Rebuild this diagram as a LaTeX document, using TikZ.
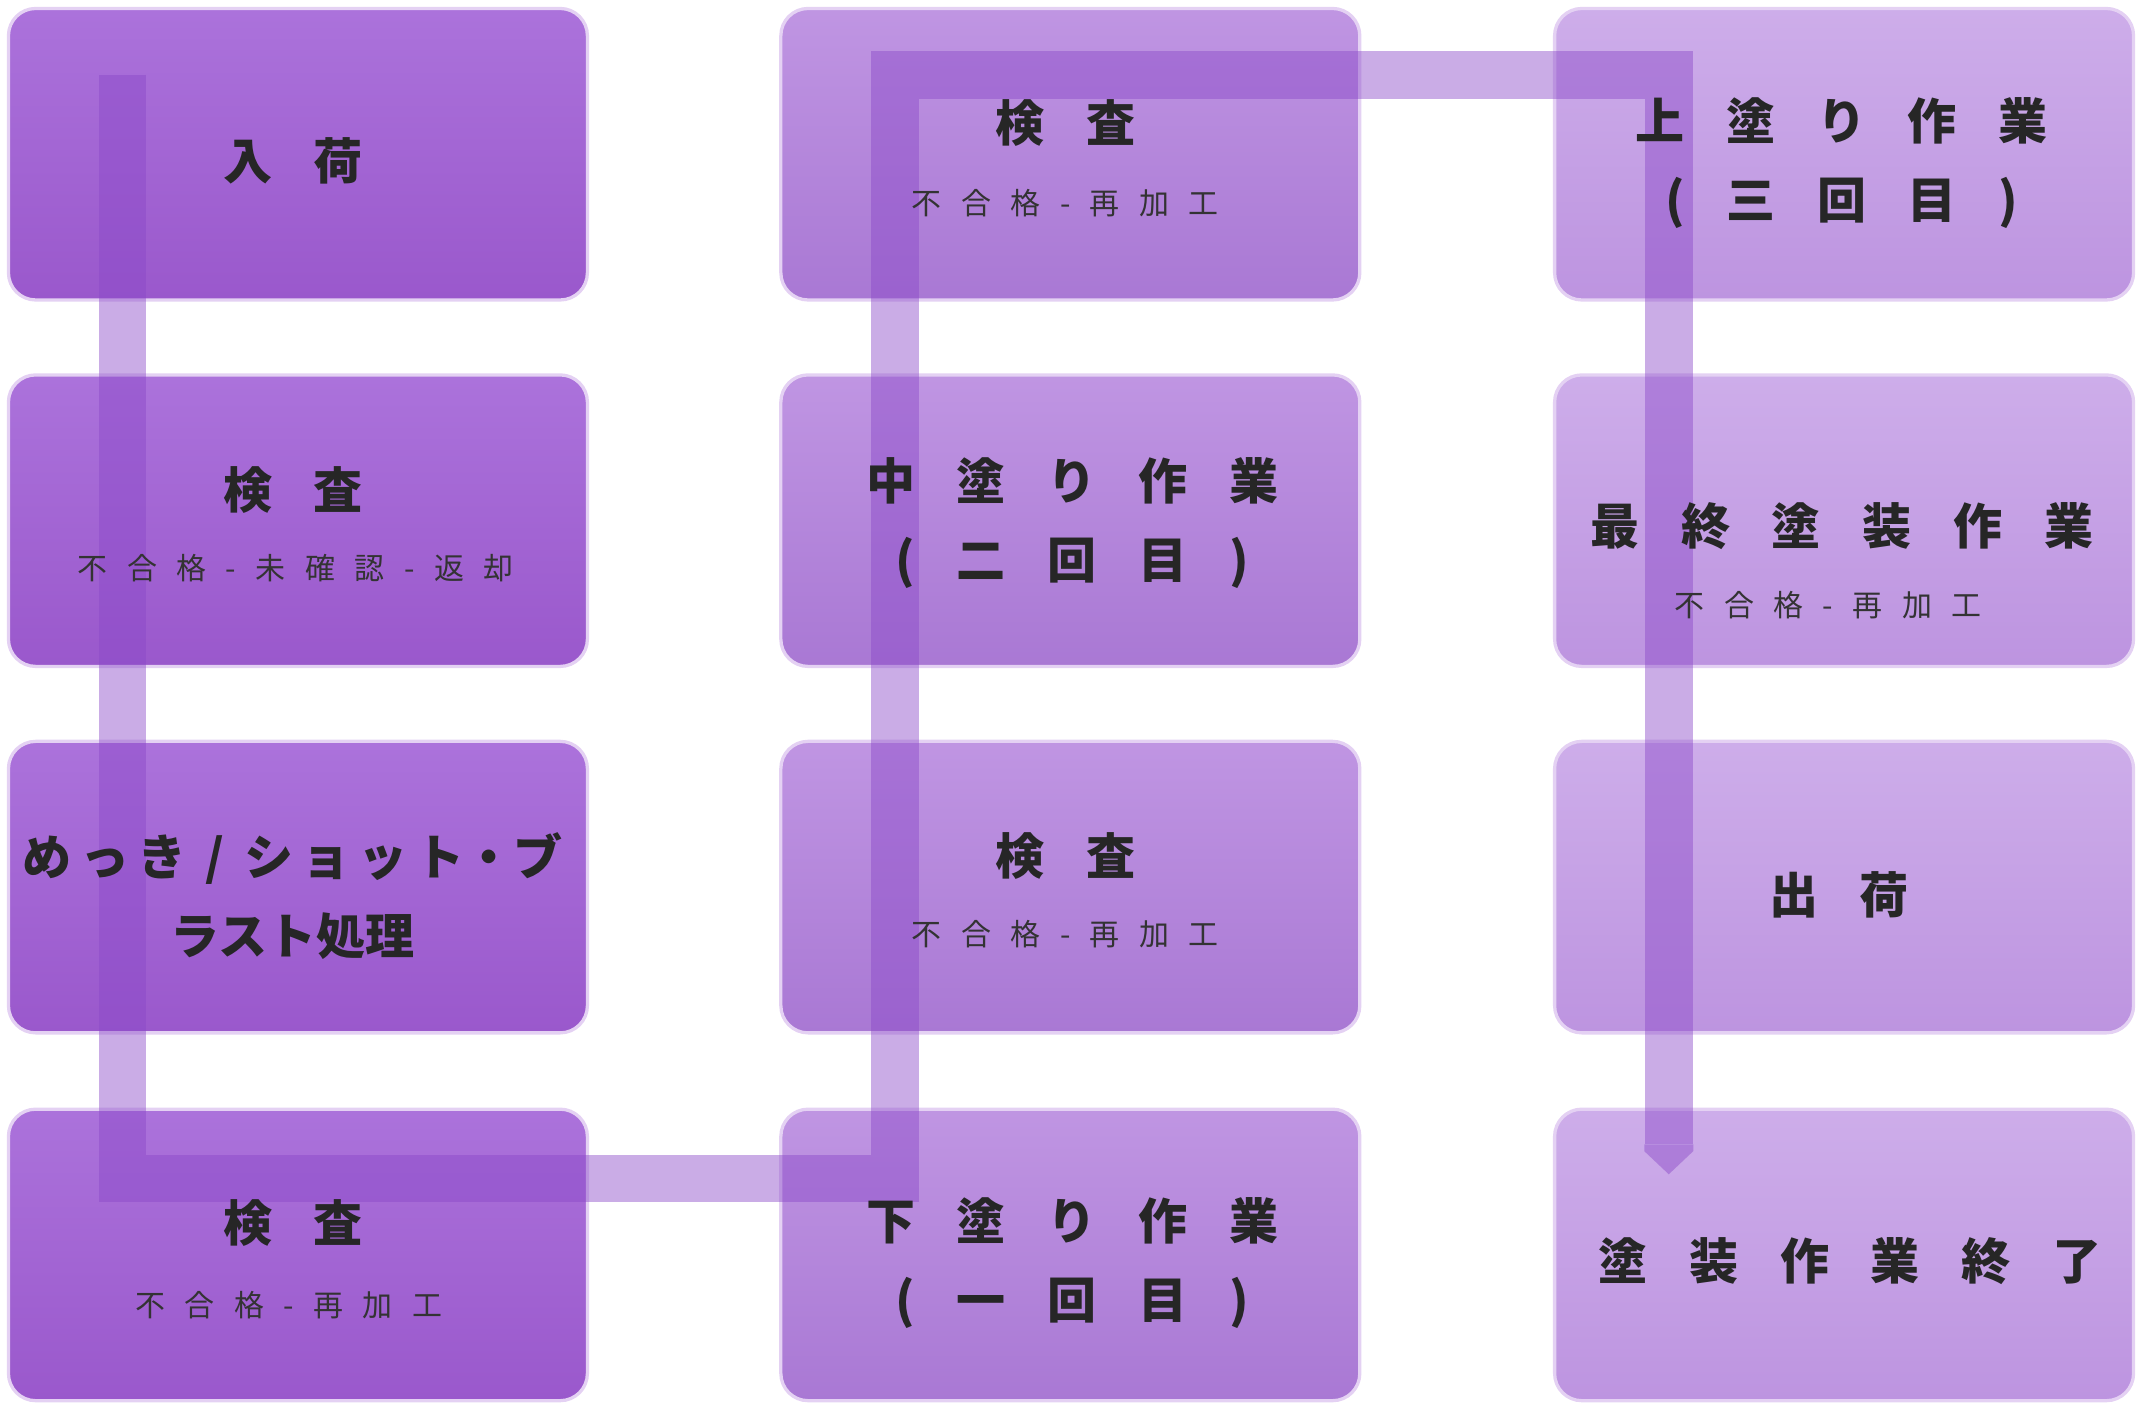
\documentclass[tikz,border=0pt]{standalone}
\usepackage{fontspec}
\setmainfont{Noto Sans CJK JP}
\usetikzlibrary{calc}
\definecolor{cA}{HTML}{A466D8}
\definecolor{cB}{HTML}{BA8CE0}
\definecolor{cC}{HTML}{C9A6E8}
\definecolor{dA}{HTML}{9A58CC}
\definecolor{dB}{HTML}{A978D4}
\definecolor{dC}{HTML}{BD94E0}
\definecolor{band}{HTML}{8A48C8}
\newcommand\wideT{\bfseries\fontsize{18pt}{29pt}\selectfont\spaceskip=0.85em plus 0pt\relax}
\newcommand\wideS{\fontsize{11pt}{14pt}\selectfont\spaceskip=0.65em plus 0pt\relax}
\begin{document}
\begin{tikzpicture}[x=0.5pt,y=-0.5pt,
  box/.style={rounded corners=10pt,draw=white!70!cA,line width=1.2pt,minimum width=212.5pt,minimum height=107pt,inner sep=0pt,anchor=north west},
  ttl/.style={font=\wideT,align=center,text=black!85},
  sub/.style={font=\wideS,text=black!80},
  bandline/.style={line width=17.5pt,draw=band,opacity=0.45}]
\useasboundingbox (0,0) rectangle (1568,1030);
\foreach \n/\x/\y/\c/\d in {a1/5/5/cA/dA,a2/5/274/cA/dA,a3/5/543/cA/dA,a4/5/813/cA/dA,
  b1/572/5/cB/dB,b2/572/274/cB/dB,b3/572/543/cB/dB,b4/572/813/cB/dB,
  c1/1140/5/cC/dC,c2/1140/274/cC/dC,c3/1140/543/cC/dC,c4/1140/813/cC/dC}{
  \node[box,top color=\c!92!white,bottom color=\d] (\n) at (\x,\y) {};
}
\coordinate (p0) at (90,55);
\coordinate (p1) at (90,865);
\coordinate (p2) at (657,865);
\coordinate (p3) at (657,55);
\coordinate (p4) at (1225,55);
\coordinate (p5) at (1225,840);
\draw[bandline] (p0) -- (p1) -- (p2) -- (p3) -- (p4) -- (p5);
\fill[band,opacity=0.45] (1207,840) -- (1243,840) -- (1243,845) -- (1225,862) -- (1207,845) -- cycle;
\node[ttl] (t1) at (215,118) {入 荷};
\node[ttl] (t2) at (215,360) {検 査};
\node[sub] (s2) at (217,417) {不 合 格 - 未 確 認 - 返 却};
\node[ttl,font=\bfseries\fontsize{18pt}{29pt}\selectfont] (t3) at (215,658) {め\,っ\,き\, /\, シ\,ョ\,ッ\,ト・ブ\\ラスト処理};
\node[ttl] (t4) at (215,898) {検 査};
\node[sub] (s4) at (212,958) {不 合 格 - 再 加 工};
\node[ttl] (u1) at (782,90) {検 査};
\node[sub] (v1) at (782,149) {不 合 格 - 再 加 工};
\node[ttl] (u2) at (787,384) {中 塗 り 作 業\\( 二 回 目 )};
\node[ttl] (u3) at (782,628) {検 査};
\node[sub] (v3) at (782,686) {不 合 格 - 再 加 工};
\node[ttl] (u4) at (787,927) {下 塗 り 作 業\\( 一 回 目 )};
\node[ttl] (w1) at (1352,120) {上 塗 り 作 業\\( 三 回 目 )};
\node[ttl] (w2) at (1352,386) {最 終 塗 装 作 業};
\node[sub] (x2) at (1342,444) {不 合 格 - 再 加 工};
\node[ttl] (w3) at (1350,657) {出 荷};
\node[ttl] (w4) at (1358,926) {塗 装 作 業 終 了};
\end{tikzpicture}
\end{document}
